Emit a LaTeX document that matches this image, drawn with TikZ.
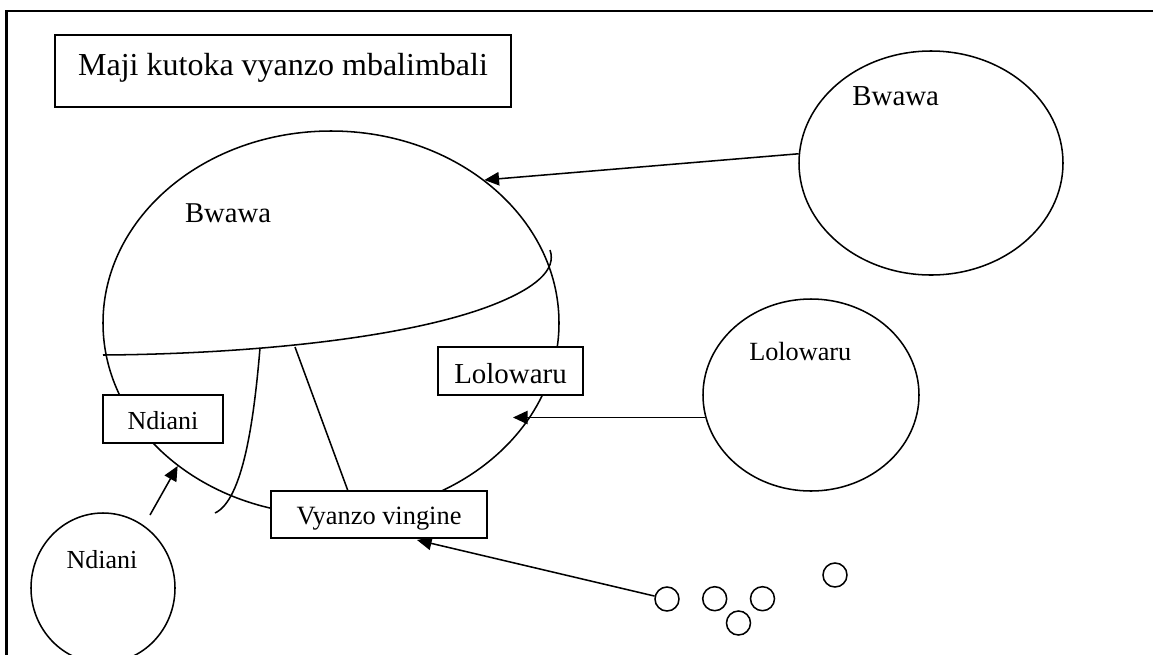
\documentclass[tikz,border=0pt]{standalone}
\usepackage{fontspec}
\setmainfont{Liberation Serif}
\usetikzlibrary{shapes.geometric,arrows.meta}
\begin{document}
\begin{tikzpicture}[x=0.75pt,y=-0.75pt,
  line width=1.15pt,
  oval/.style={draw, ellipse, inner sep=0pt},
  pebble/.style={draw, circle, minimum size=18pt, inner sep=0pt},
  box/.style={draw, fill=white, rectangle, inner xsep=0pt, inner ysep=0pt, line width=1.25pt},
  lbl/.style={anchor=base, inner sep=0pt},
  arr/.style={-{Triangle[length=11pt,width=10pt]}, line width=1.15pt},
  frame/.style={line width=1.8pt}]
\useasboundingbox (0,0) rectangle (1153,654);
\clip (0,0) rectangle (1153,654);
\draw[frame] (6.5,11) rectangle (1175,685);

% ellipses and circles
\node[oval, minimum width=342pt, minimum height=288pt] (big) at (331,323) {};
\node[oval, minimum width=198pt, minimum height=168pt] (bwR) at (931,163) {};
\node[oval, minimum width=162pt, minimum height=144pt] (lolC) at (811,395) {};
\node[oval, minimum width=108pt, minimum height=112.5pt] (ndC) at (103,588) {};
\node[pebble] (s1) at (667,599) {};
\node[pebble] (s2) at (714.7,598.7) {};
\node[pebble] (s3) at (762.5,598.7) {};
\node[pebble] (s4) at (738.5,623) {};
\node[pebble] (s5) at (835,575) {};

% labels inside ellipses
\node[lbl, font=\fontsize{21.5}{24}\selectfont] (lblBig) at (228,222.7) {Bwawa};
\node[lbl, font=\fontsize{21.7}{24}\selectfont] (lblBwR) at (895.7,105) {Bwawa};
\node[lbl, font=\fontsize{19.7}{22}\selectfont] (lblLol) at (800.3,360) {Lolowaru};
\node[lbl, font=\fontsize{19.5}{22}\selectfont] (lblNd) at (102,568.3) {Ndiani};

% inner curves of the big pond
\draw (103,355) .. controls (250,354) and (410,338) .. (495,304)
      .. controls (535,288) and (557,270) .. (550,250);
\draw (260,348) .. controls (254,420) and (243,500) .. (215,513);
\draw (295,347) -- (348,491);

% connectors
\coordinate (tipLol) at (513,0);
\coordinate (ndTail) at (150,515);
\coordinate (tipVy) at (417,540);
\draw[arr] (bwR.176) -- (big.43);
\draw[arr] (lolC.192) -- (lolC.192 -| tipLol);
\draw[arr] (ndTail) -- (big.223);
\draw[arr] (s1) -- (tipVy);

% boxes
\node[box, minimum width=342pt, text height=30pt, text depth=24pt,
      font=\fontsize{24}{28}\selectfont] (title) at (283,71) {Maji kutoka vyanzo mbalimbali};
\node[box, minimum width=90pt, text height=25.5pt, text depth=10.5pt,
      font=\fontsize{19.5}{22}\selectfont] (ndBox) at (163,419) {Ndiani};
\node[box, minimum width=108.75pt, text height=27.2pt, text depth=8.8pt,
      font=\fontsize{21.7}{24}\selectfont] (lolBox) at (510.5,371) {Lolowaru};
\node[box, minimum width=162pt, text height=25pt, text depth=10.25pt,
      font=\fontsize{19.8}{22}\selectfont] (vyBox) at (379,514.5) {Vyanzo vingine};
\end{tikzpicture}
\end{document}
